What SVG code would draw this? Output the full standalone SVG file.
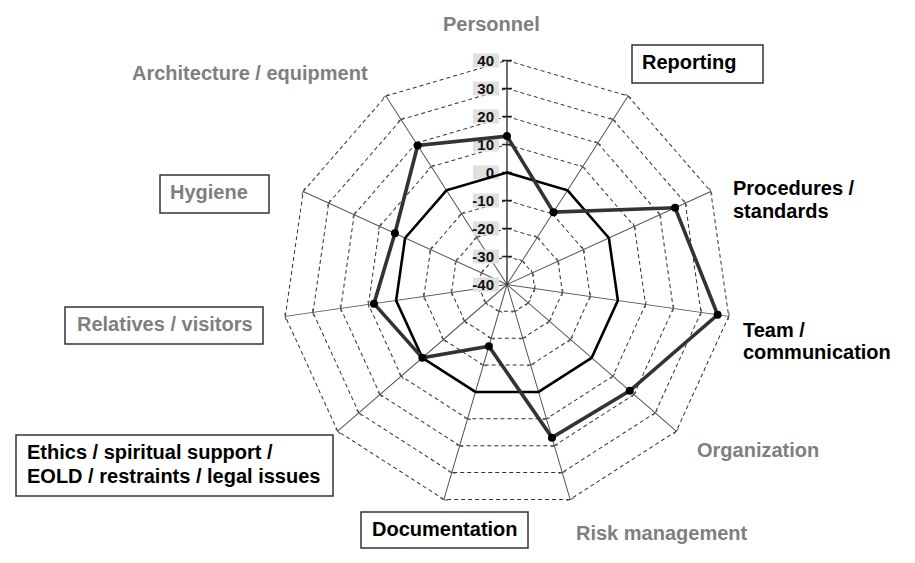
<svg xmlns="http://www.w3.org/2000/svg" xmlns:xlink="http://www.w3.org/1999/xlink" width="915" height="563" viewBox="0 0 915 563">
<style>
.ax{stroke:#555;stroke-width:1;fill:none}
.ax0{stroke:#222;stroke-width:1.3;fill:none}
.lbl{font-family:"Liberation Sans",Arial,sans-serif;font-weight:bold;font-size:20px}
.gray{fill:#7f7f7f}
.blk{fill:#000}
.box{fill:#fff;stroke:#333;stroke-width:1.5}
.vbg{fill:#e0e0e0}
.val{font-family:"Liberation Sans",Arial,sans-serif;font-weight:bold;font-size:15px;fill:#111;text-anchor:end}
.s0{fill:none;stroke:#000;stroke-width:2.6;stroke-linejoin:miter}
.s1{fill:none;stroke:#333;stroke-width:3.6;stroke-linejoin:miter}
.dot{fill:#000}
</style>
<defs>
<g id="seg" stroke="#333" stroke-width="1" stroke-dasharray="4 3" fill="none">
<line x1="0" y1="-28" x2="15.14" y2="-23.56"/>
<line x1="0" y1="-56" x2="30.28" y2="-47.11"/>
<line x1="0" y1="-84" x2="45.41" y2="-70.67"/>
<line x1="0" y1="-112" x2="60.55" y2="-94.22"/>
<line x1="0" y1="-140" x2="75.69" y2="-117.78"/>
<line x1="0" y1="-168" x2="90.83" y2="-141.33"/>
<line x1="0" y1="-196" x2="105.97" y2="-164.89"/>
<line x1="0" y1="-224" x2="121.10" y2="-188.44"/>
</g>
<path id="axis" d="M0 0V-224M-3.5 -28H3.5M-3.5 -56H3.5M-3.5 -84H3.5M-3.5 -112H3.5M-3.5 -140H3.5M-3.5 -168H3.5M-3.5 -196H3.5M-3.5 -224H3.5"/>
<path id="axis0" d="M0 0V-224M-5 -28H5M-5 -56H5M-5 -84H5M-5 -112H5M-5 -140H5M-5 -168H5M-5 -196H5M-5 -224H5"/>
</defs>
<rect width="915" height="563" fill="#fff"/>
<g id="grid" transform="translate(507,284.5)">
<use xlink:href="#seg" href="#seg"/>
<use xlink:href="#seg" href="#seg" transform="rotate(32.727)"/>
<use xlink:href="#seg" href="#seg" transform="rotate(65.455)"/>
<use xlink:href="#seg" href="#seg" transform="rotate(98.182)"/>
<use xlink:href="#seg" href="#seg" transform="rotate(130.909)"/>
<use xlink:href="#seg" href="#seg" transform="rotate(163.636)"/>
<use xlink:href="#seg" href="#seg" transform="rotate(196.364)"/>
<use xlink:href="#seg" href="#seg" transform="rotate(229.091)"/>
<use xlink:href="#seg" href="#seg" transform="rotate(261.818)"/>
<use xlink:href="#seg" href="#seg" transform="rotate(294.545)"/>
<use xlink:href="#seg" href="#seg" transform="rotate(327.273)"/>
</g>
<g id="axes" transform="translate(507,284.5)">
<use class="ax" xlink:href="#axis" href="#axis" transform="rotate(32.727)"/>
<use class="ax" xlink:href="#axis" href="#axis" transform="rotate(65.455)"/>
<use class="ax" xlink:href="#axis" href="#axis" transform="rotate(98.182)"/>
<use class="ax" xlink:href="#axis" href="#axis" transform="rotate(130.909)"/>
<use class="ax" xlink:href="#axis" href="#axis" transform="rotate(163.636)"/>
<use class="ax" xlink:href="#axis" href="#axis" transform="rotate(196.364)"/>
<use class="ax" xlink:href="#axis" href="#axis" transform="rotate(229.091)"/>
<use class="ax" xlink:href="#axis" href="#axis" transform="rotate(261.818)"/>
<use class="ax" xlink:href="#axis" href="#axis" transform="rotate(294.545)"/>
<use class="ax" xlink:href="#axis" href="#axis" transform="rotate(327.273)"/>
<use class="ax0" xlink:href="#axis0" href="#axis0"/>
</g>
<g id="value-labels">
<rect class="vbg" x="473" y="53.5" width="26" height="14"/>
<rect class="vbg" x="473" y="81.5" width="26" height="14"/>
<rect class="vbg" x="473" y="109.5" width="26" height="14"/>
<rect class="vbg" x="473" y="137.5" width="26" height="14"/>
<rect class="vbg" x="473" y="165.5" width="26" height="14"/>
<rect class="vbg" x="473" y="193.5" width="26" height="14"/>
<rect class="vbg" x="473" y="221.5" width="26" height="14"/>
<rect class="vbg" x="473" y="249.5" width="26" height="14"/>
<rect class="vbg" x="473" y="277.5" width="26" height="14"/>
<text class="val" x="494" y="66">40</text>
<text class="val" x="494" y="94">30</text>
<text class="val" x="494" y="122">20</text>
<text class="val" x="494" y="150">10</text>
<text class="val" x="494" y="178">0</text>
<text class="val" x="494" y="206">-10</text>
<text class="val" x="494" y="234">-20</text>
<text class="val" x="494" y="262">-30</text>
<text class="val" x="494" y="290">-40</text>
</g>
<g id="series">
<polygon class="s0" points="507,172.5 567.55,190.28 608.88,237.97 617.86,300.44 591.64,357.84 538.55,391.96 475.45,391.96 422.36,357.84 396.14,300.44 405.12,237.97 446.45,190.28"/>
<polygon class="s1" points="507,136.1 553.49,212.15 675.10,207.73 717.63,314.78 629.73,390.85 551.96,437.63 488.86,346.29 422.36,357.84 373.97,303.63 394.93,233.32 417.69,145.53"/>
<g class="dot">
<circle cx="507" cy="136.1" r="4"/>
<circle cx="553.49" cy="212.15" r="4"/>
<circle cx="675.10" cy="207.73" r="4"/>
<circle cx="717.63" cy="314.78" r="4"/>
<circle cx="629.73" cy="390.85" r="4"/>
<circle cx="551.96" cy="437.63" r="4"/>
<circle cx="488.86" cy="346.29" r="4"/>
<circle cx="422.36" cy="357.84" r="4"/>
<circle cx="373.97" cy="303.63" r="4"/>
<circle cx="394.93" cy="233.32" r="4"/>
<circle cx="417.69" cy="145.53" r="4"/>
</g>
</g>
<g id="personnel"><text class="lbl gray" x="443" y="31">Personnel</text></g>
<g id="reporting"><rect class="box" x="632" y="45" width="131" height="38"/><text class="lbl blk" x="642" y="69">Reporting</text></g>
<g id="procedures"><text class="lbl blk" x="733" y="195">Procedures /</text><text class="lbl blk" x="733" y="218">standards</text></g>
<g id="team"><text class="lbl blk" x="743" y="337">Team /</text><text class="lbl blk" x="743" y="359">communication</text></g>
<g id="organization"><text class="lbl gray" x="697" y="457">Organization</text></g>
<g id="risk"><text class="lbl gray" x="576" y="540">Risk management</text></g>
<g id="documentation"><rect class="box" x="361" y="512" width="167" height="36"/><text class="lbl blk" x="372" y="536">Documentation</text></g>
<g id="ethics"><rect class="box" x="16" y="435" width="317" height="61"/><text class="lbl blk" x="27" y="459">Ethics / spiritual support /</text><text class="lbl blk" x="27" y="483">EOLD / restraints / legal issues</text></g>
<g id="relatives"><rect class="box" x="65" y="307" width="198" height="37"/><text class="lbl gray" x="77" y="331">Relatives / visitors</text></g>
<g id="hygiene"><rect class="box" x="160" y="175" width="109" height="38"/><text class="lbl gray" x="170" y="199">Hygiene</text></g>
<g id="architecture"><text class="lbl gray" x="132" y="80">Architecture / equipment</text></g>
</svg>
